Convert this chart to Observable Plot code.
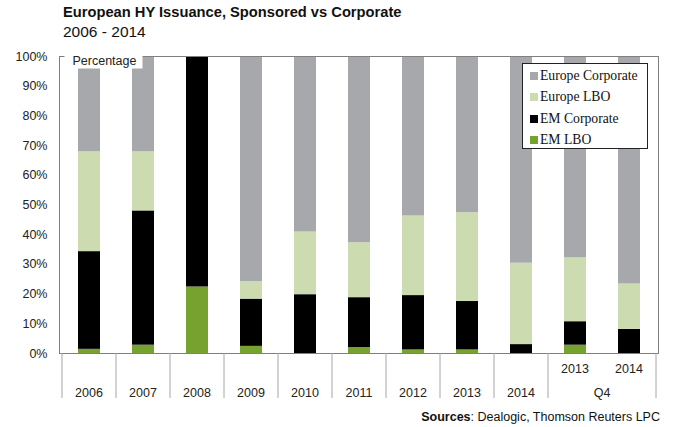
<!DOCTYPE html>
<html><head><meta charset="utf-8">
<script src="https://cdn.jsdelivr.net/npm/d3@7"></script>
<script src="https://cdn.jsdelivr.net/npm/@observablehq/plot@0.6"></script>
<style>
body{margin:0;background:#fff;}
#wrap{position:relative;width:675px;height:427px;font-family:"Liberation Sans",Arial,sans-serif;color:#111;overflow:hidden;}
#title{position:absolute;left:63px;top:4px;font-weight:bold;font-size:14.7px;line-height:17px;white-space:nowrap;}
#subtitle{position:absolute;left:63px;top:23px;font-size:15.5px;line-height:18px;white-space:nowrap;}
#chart{position:absolute;left:0;top:40px;}
#legend{position:absolute;left:522px;top:63px;width:124px;height:84px;border:1px solid #222;background:#fff;font-family:"Liberation Serif","Times New Roman",serif;font-size:13.7px;}
#legend .item{position:absolute;left:7px;height:16px;line-height:16px;white-space:nowrap;}
#legend .sw{display:inline-block;width:8px;height:8px;margin-right:2px;vertical-align:0px;}
#source{position:absolute;right:15px;top:409px;font-size:12.5px;line-height:16px;white-space:nowrap;}
</style></head>
<body>
<div id="wrap">
  <div id="title">European HY Issuance, Sponsored vs Corporate</div>
  <div id="subtitle">2006 - 2014</div>
  <div id="chart"></div>
  <div id="legend"></div>
  <div id="source"><b>Sources</b>: Dealogic, Thomson Reuters LPC</div>
</div>
<script>
// categories (x bands)
const categories = ["2006","2007","2008","2009","2010","2011","2012","2013","2014","Q4 2013","Q4 2014"];
const tickLabels = ["2006","2007","2008","2009","2010","2011","2012","2013","2014","2013","2014"];
const groupLabel = "Q4";
const groupMembers = ["Q4 2013","Q4 2014"];
// series, bottom to top of stack
const series = ["EM LBO","EM Corporate","Europe LBO","Europe Corporate"];
const colors = ["#77a22f","#000000","#ccdcb0","#a7a8ac"];
// values in %
const emLBO           = [1.4, 2.8, 22.4, 2.4, 0,    2.0,  1.2,  1.2,  0,    2.8,  0];
const emCorporate     = [32.9,45.2,77.6, 15.9,19.8, 16.8, 18.3, 16.3, 3.0,  7.9,  8.1];
const europeLBO       = [33.6,19.9,0,    5.9, 21.1, 18.5, 26.8, 29.9, 27.4, 21.5, 15.3];
const europeCorporate = [32.1,32.1,0,    75.8,59.1, 62.7, 53.7, 52.6, 69.6, 67.8, 76.6];
const yTicks = [0,10,20,30,40,50,60,70,80,90,100];
const yLabel = "Percentage";

const seriesValues = [emLBO, emCorporate, europeLBO, europeCorporate];
const data = categories.flatMap((c, i) => series.map((s, j) => ({category: c, series: s, value: seriesValues[j][i]})));

const chart = Plot.plot({
  width: 675, height: 387,
  marginTop: 16, marginBottom: 74, marginLeft: 59, marginRight: 17,
  style: {fontFamily: "'Liberation Sans', Arial, sans-serif", fontSize: "12.5px", color: "#222", background: "transparent", overflow: "visible"},
  x: {domain: categories, paddingInner: 0.6, paddingOuter: 0.3, axis: null},
  y: {domain: [0, 100], axis: null},
  color: {domain: series, range: colors},
  marks: [
    Plot.barY(data, {x: "category", y: "value", fill: "series", order: series}),
    Plot.axisY({ticks: yTicks, tickFormat: d => d + "%", tickSize: 0, tickPadding: 12, label: null}),
    Plot.frame({stroke: "#7f7f7f"}),
    Plot.text([yLabel], {frameAnchor: "top-left", dx: 13, dy: 4, lineAnchor: "middle", text: d => d, fill: "#222"})
  ]
});
document.getElementById("chart").appendChild(chart);

const svg = d3.select(chart);
// white box behind the "Percentage" label
const lblNode = svg.selectAll("text").filter(function() { return this.textContent === yLabel; }).node();
if (lblNode) {
  const sr = chart.getBoundingClientRect();
  const tr = lblNode.getBoundingClientRect();
  let top = lblNode;
  while (top.parentNode && top.parentNode !== chart) top = top.parentNode;
  const rect = document.createElementNS("http://www.w3.org/2000/svg", "rect");
  rect.setAttribute("x", tr.left - sr.left - 8);
  rect.setAttribute("y", tr.top - sr.top - 5);
  rect.setAttribute("width", tr.width + 14);
  rect.setAttribute("height", tr.height + 6);
  rect.setAttribute("fill", "white");
  chart.insertBefore(rect, top);
}

// x axis: band separators and labels via the plot's x scale
const sx = chart.scale("x");
const sy = chart.scale("y");
const y0 = Math.max(...sy.range);
const bw = sx.bandwidth, step = sx.step;
const half = (step - bw) / 2;
const g = svg.append("g").attr("font-size", "12.5px").attr("fill", "#222");
categories.forEach((c, i) => {
  const left = sx.apply(c) - half;
  if (!(groupMembers.includes(c) && groupMembers.indexOf(c) > 0)) {
    g.append("line").attr("x1", left).attr("x2", left).attr("y1", y0).attr("y2", y0 + 45)
      .attr("stroke", "#a6a6a6");
  }
  const cx = sx.apply(c) + bw / 2;
  const inGroup = groupMembers.includes(c);
  g.append("text").attr("x", cx).attr("y", y0 + (inGroup ? 16 : 40)).attr("dy", "0.35em")
    .attr("text-anchor", "middle").text(tickLabels[i]);
});
const lastC = categories[categories.length - 1];
const rightEdge = sx.apply(lastC) + bw + half;
g.append("line").attr("x1", rightEdge).attr("x2", rightEdge).attr("y1", y0).attr("y2", y0 + 45).attr("stroke", "#a6a6a6");
const gx = (sx.apply(groupMembers[0]) + sx.apply(groupMembers[groupMembers.length - 1])) / 2 + bw / 2;
g.append("text").attr("x", gx).attr("y", y0 + 40).attr("dy", "0.35em").attr("text-anchor", "middle").text(groupLabel);

// legend
const legend = document.getElementById("legend");
const order = series.slice().reverse();
order.forEach((s, k) => {
  const item = document.createElement("div");
  item.className = "item";
  item.style.top = (4 + k * 21.3) + "px";
  const sw = document.createElement("span");
  sw.className = "sw";
  sw.style.background = colors[series.indexOf(s)];
  item.appendChild(sw);
  item.appendChild(document.createTextNode(s));
  legend.appendChild(item);
});
</script>
</body></html>
